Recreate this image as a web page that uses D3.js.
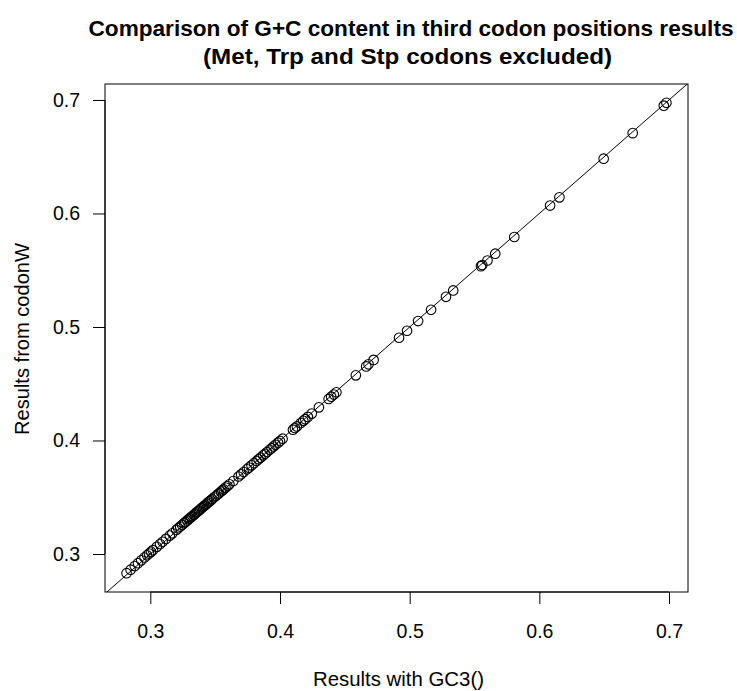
<!DOCTYPE html>
<html>
<head>
<meta charset="utf-8">
<script src="https://cdn.jsdelivr.net/npm/d3@7"></script>
<style>
  html, body { margin: 0; padding: 0; background: #fff; }
  svg { display: block; }
  text { font-family: "Liberation Sans", Arial, Helvetica, sans-serif; fill: #000; }
</style>
</head>
<body>
<svg id="chart" width="737" height="691"></svg>
<script>
// ---- data ----
const titleLines = ["Comparison of G+C content in third codon positions results",
                    "(Met, Trp and Stp codons excluded)"];
const xLabel = "Results with GC3()";
const yLabel = "Results from codonW";
const xTicks = [0.3, 0.4, 0.5, 0.6, 0.7];
const yTicks = [0.3, 0.4, 0.5, 0.6, 0.7];

// GC3 results (x)
const gc3 = [
  0.2817, 0.2848, 0.2880, 0.2905, 0.2930, 0.2955, 0.2975, 0.2990, 0.3005, 0.3020,
  0.3050, 0.3075, 0.3095, 0.3120, 0.3150, 0.3170, 0.3200, 0.3215, 0.3230, 0.3245,
  0.3260, 0.3270, 0.3285, 0.3295, 0.3305, 0.3315, 0.3325, 0.3335, 0.3345, 0.3355,
  0.3365, 0.3375, 0.3385, 0.3395, 0.3405, 0.3415, 0.3425, 0.3435, 0.3445, 0.3455,
  0.3465, 0.3475, 0.3490, 0.3505, 0.3520, 0.3530, 0.3545, 0.3555, 0.3565, 0.3580,
  0.3595, 0.3610, 0.3640, 0.3680, 0.3700, 0.3720, 0.3745, 0.3760, 0.3780, 0.3800,
  0.3820, 0.3835, 0.3850, 0.3870, 0.3885, 0.3900, 0.3920, 0.3935, 0.3950, 0.3965,
  0.3985, 0.4000, 0.4020, 0.4100, 0.4115, 0.4130, 0.4160, 0.4180, 0.4195, 0.4215,
  0.4245, 0.4300, 0.4375, 0.4395, 0.4415, 0.4435, 0.4585, 0.4665, 0.4683, 0.4722,
  0.4918, 0.4980, 0.5065, 0.5165, 0.5280, 0.5336, 0.5550, 0.5560, 0.5600, 0.5660,
  0.5807, 0.6083, 0.6155, 0.6496, 0.6720, 0.6960, 0.6980
];
// codonW results (y)
const codonW = [
  0.2831, 0.2862, 0.2894, 0.2919, 0.2944, 0.2969, 0.2989, 0.3004, 0.3019, 0.3034,
  0.3063, 0.3088, 0.3108, 0.3133, 0.3162, 0.3182, 0.3212, 0.3227, 0.3242, 0.3256,
  0.3271, 0.3281, 0.3296, 0.3306, 0.3316, 0.3325, 0.3335, 0.3345, 0.3355, 0.3365,
  0.3375, 0.3384, 0.3394, 0.3404, 0.3414, 0.3424, 0.3433, 0.3443, 0.3453, 0.3463,
  0.3472, 0.3482, 0.3497, 0.3511, 0.3526, 0.3536, 0.3550, 0.3560, 0.3570, 0.3585,
  0.3599, 0.3614, 0.3643, 0.3683, 0.3702, 0.3722, 0.3746, 0.3761, 0.3781, 0.3800,
  0.3820, 0.3834, 0.3849, 0.3869, 0.3883, 0.3898, 0.3918, 0.3932, 0.3947, 0.3962,
  0.3981, 0.3996, 0.4016, 0.4095, 0.4110, 0.4124, 0.4154, 0.4173, 0.4188, 0.4208,
  0.4237, 0.4292, 0.4366, 0.4386, 0.4405, 0.4425, 0.4574, 0.4653, 0.4671, 0.4710,
  0.4905, 0.4967, 0.5052, 0.5152, 0.5266, 0.5322, 0.5536, 0.5546, 0.5586, 0.5646,
  0.5793, 0.6070, 0.6142, 0.6483, 0.6708, 0.6950, 0.6975
];

// ---- layout ----
const W = 737, H = 691;
const plot = { left: 105, right: 688, top: 84, bottom: 592 };

function rExtend(vals) {
  const [lo, hi] = d3.extent(vals);
  const pad = (hi - lo) * 0.04;
  return [lo - pad, hi + pad];
}
const x = d3.scaleLinear().domain(rExtend(gc3)).range([plot.left, plot.right]);
const y = d3.scaleLinear().domain(rExtend(codonW)).range([plot.bottom, plot.top]);

const svg = d3.select("#chart");
svg.append("rect").attr("width", W).attr("height", H).attr("fill", "#fff");

// clip
svg.append("clipPath").attr("id", "clip")
  .append("rect")
  .attr("x", plot.left).attr("y", plot.top)
  .attr("width", plot.right - plot.left).attr("height", plot.bottom - plot.top);

// identity line y = x
const lo = Math.min(x.domain()[0], y.domain()[0]) - 0.05;
const hi = Math.max(x.domain()[1], y.domain()[1]) + 0.05;
svg.append("line")
  .attr("clip-path", "url(#clip)")
  .attr("x1", x(lo)).attr("y1", y(lo))
  .attr("x2", x(hi)).attr("y2", y(hi))
  .attr("stroke", "#000").attr("stroke-width", 1);

// points
const pts = gc3.map((v, i) => ({ gx: v, cy: codonW[i] }));
svg.append("g").selectAll("circle").data(pts).join("circle")
  .attr("cx", d => x(d.gx)).attr("cy", d => y(d.cy))
  .attr("r", 4.8)
  .attr("fill", "none").attr("stroke", "#000").attr("stroke-width", 1.1);

// box
svg.append("rect")
  .attr("x", plot.left).attr("y", plot.top)
  .attr("width", plot.right - plot.left).attr("height", plot.bottom - plot.top)
  .attr("fill", "none").attr("stroke", "#000").attr("stroke-width", 1);

// axes
const xAxis = d3.axisBottom(x).tickValues(xTicks).tickSize(12).tickPadding(20)
  .tickFormat(d3.format(".1f"));
const gx = svg.append("g").attr("transform", `translate(0,${plot.bottom})`).call(xAxis);
gx.select(".domain").attr("d", `M${x(xTicks[0])},0H${x(xTicks[xTicks.length-1])}`);
gx.selectAll("text").attr("font-size", 19.5).attr("font-family", "Liberation Sans, Arial, sans-serif");

const yAxis = d3.axisLeft(y).tickValues(yTicks).tickSize(12).tickPadding(13)
  .tickFormat(d3.format(".1f"));
const gy = svg.append("g").attr("transform", `translate(${plot.left},0)`).call(yAxis);
gy.select(".domain").attr("d", `M0,${y(yTicks[0])}V${y(yTicks[yTicks.length-1])}`);
gy.selectAll("text").attr("font-size", 19.5).attr("font-family", "Liberation Sans, Arial, sans-serif");

// axis labels
svg.append("text")
  .attr("x", 398.5).attr("y", 686)
  .attr("text-anchor", "middle").attr("font-size", 19.5)
  .attr("textLength", 171).attr("lengthAdjust", "spacingAndGlyphs")
  .text(xLabel);
svg.append("text")
  .attr("transform", `translate(29,339) rotate(-90)`)
  .attr("text-anchor", "middle").attr("font-size", 19.5)
  .attr("textLength", 192).attr("lengthAdjust", "spacingAndGlyphs")
  .text(yLabel);

// title
const titleCenters = [411, 407.5];
const titleWidths = [645, 409];
svg.append("g").selectAll("text").data(titleLines).join("text")
  .attr("x", (d, i) => titleCenters[i])
  .attr("y", (d, i) => 36 + i * 28)
  .attr("text-anchor", "middle")
  .attr("font-size", 22.5)
  .attr("font-weight", "bold")
  .attr("textLength", (d, i) => titleWidths[i]).attr("lengthAdjust", "spacingAndGlyphs")
  .text(d => d);
</script>
</body>
</html>
